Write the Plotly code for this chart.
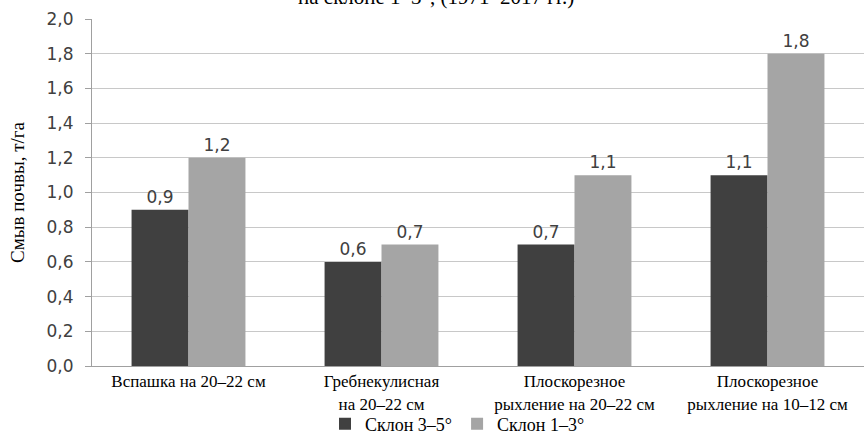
import plotly.graph_objects as go

categories = ["Вспашка на 20–22 см", "Гребнекулисная<br>на 20–22 см",
              "Плоскорезное<br>рыхление на 20–22 см", "Плоскорезное<br>рыхление на 10–12 см"]
slope_3_5 = [0.9, 0.6, 0.7, 1.1]
slope_1_3 = [1.2, 0.7, 1.1, 1.8]
series_names = ["Склон 3–5°", "Склон 1–3°"]
y_ticks = [0.0, 0.2, 0.4, 0.6, 0.8, 1.0, 1.2, 1.4, 1.6, 1.8, 2.0]
title_text = "на склоне 1–3°, (1971–2017 гг.)"

serif = "Liberation Serif"
sans = "DejaVu Sans"

fig = go.Figure()
for name, vals, col in [(series_names[0], slope_3_5, "#404040"), (series_names[1], slope_1_3, "#a5a5a5")]:
    fig.add_trace(go.Bar(
        x=categories, y=vals, name=name, marker_color=col, marker_line_width=0,
        texttemplate="%{y:.1f}", textposition="outside", cliponaxis=False,
        textfont=dict(family=sans, size=17, color="#404040"),
    ))

W, H = 864, 441
mt, mb, ml, mr = 19, 75, 92, 0
ph = H - mt - mb

fig.update_layout(
    width=W, height=H, autosize=False,
    margin=dict(t=mt, b=mb, l=ml, r=mr, pad=0, autoexpand=False),
    paper_bgcolor="white", plot_bgcolor="white",
    separators=", ",
    barmode="group", bargap=0.41, bargroupgap=0,
    showlegend=True,
    legend=dict(orientation="h", x=(325 - ml) / (W - ml), xanchor="left", y=(mt + ph - 424) / ph,
                yanchor="middle", font=dict(family=serif, size=18, color="black"), itemwidth=30,
                traceorder="normal", tracegroupgap=0, bgcolor="rgba(0,0,0,0)"),
    font=dict(family=serif, color="black"),
    xaxis=dict(showline=True, linecolor="#a0a0a0", linewidth=1, ticks="", showgrid=False, automargin=False,
               tickfont=dict(family=serif, size=17, color="black")),
    yaxis=dict(range=[0, 2.0], tickvals=y_ticks, tickformat=".1f", showline=True, linecolor="#a0a0a0",
               ticks="outside", ticklen=6, tickcolor="#a0a0a0", showgrid=True, gridcolor="#c8c8c8",
               ticklabelstandoff=8,
               tickfont=dict(family=sans, size=17, color="#404040"), zeroline=False, automargin=False,
               title=dict(text="Смыв почвы, т/га", font=dict(family=serif, size=19, color="black"), standoff=16)),
)

fig.add_annotation(text=title_text, xref="paper", yref="paper", x=0.445, xanchor="center",
                   y=1 + (mt - 11) / ph, yanchor="bottom", showarrow=False,
                   font=dict(family=serif, size=21, color="black"))

fig.write_html("out.html", config={"displayModeBar": False},
               post_script="document.body.style.margin='0';document.body.style.padding='0';")
